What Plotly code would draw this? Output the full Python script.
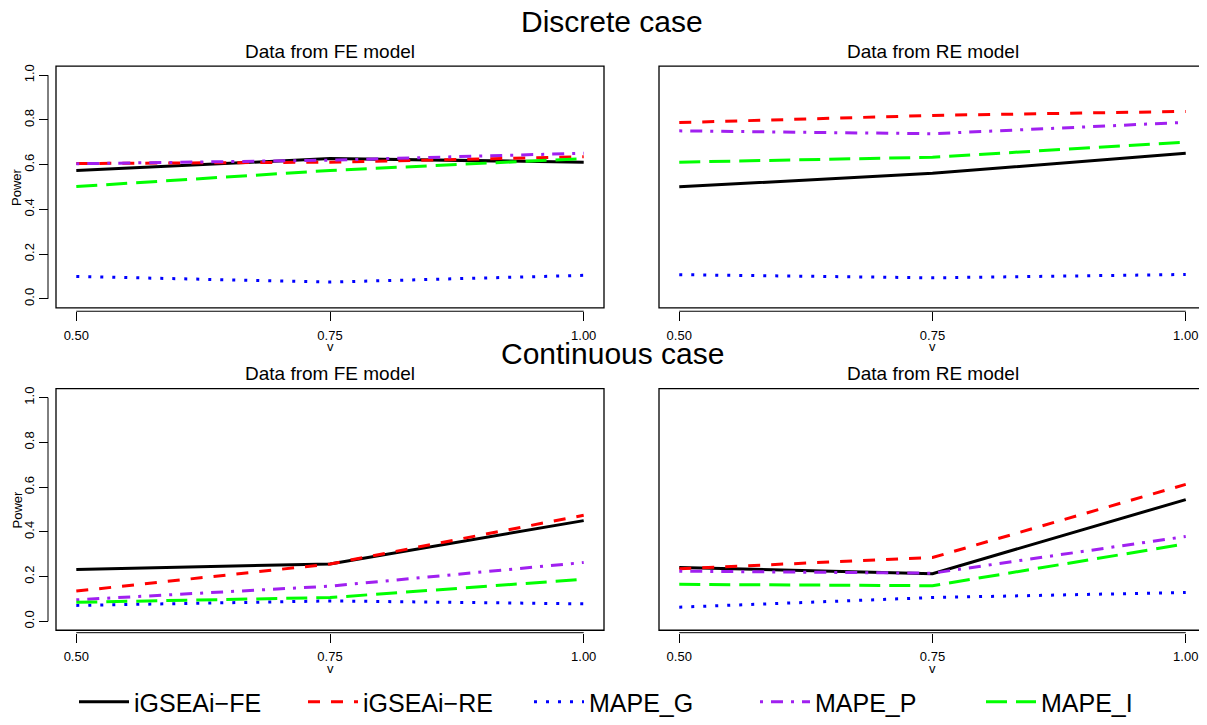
import plotly.graph_objects as go

# page body adds an 8px margin; build the figure so that it lands on the reference pixels
OFF = 8
W, H = 1207 - OFF, 725 - OFF

# ---------------- data ----------------
v_values = [0.50, 0.75, 1.00]
series_names = ["iGSEAi\u2212FE", "iGSEAi\u2212RE", "MAPE_G", "MAPE_P", "MAPE_I"]

# Discrete case, data from FE model
disc_fe_igseai_fe = [0.574, 0.627, 0.611]
disc_fe_igseai_re = [0.605, 0.611, 0.635]
disc_fe_mape_g = [0.100, 0.075, 0.105]
disc_fe_mape_p = [0.604, 0.620, 0.651]
disc_fe_mape_i = [0.502, 0.574, 0.627]

# Discrete case, data from RE model
disc_re_igseai_fe = [0.501, 0.561, 0.651]
disc_re_igseai_re = [0.788, 0.820, 0.838]
disc_re_mape_g = [0.108, 0.094, 0.109]
disc_re_mape_p = [0.751, 0.738, 0.789]
disc_re_mape_i = [0.611, 0.633, 0.701]

# Continuous case, data from FE model
cont_fe_igseai_fe = [0.232, 0.256, 0.450]
cont_fe_igseai_re = [0.135, 0.256, 0.474]
cont_fe_mape_g = [0.071, 0.091, 0.078]
cont_fe_mape_p = [0.096, 0.157, 0.263]
cont_fe_mape_i = [0.085, 0.106, 0.188]

# Continuous case, data from RE model
cont_re_igseai_fe = [0.240, 0.213, 0.544]
cont_re_igseai_re = [0.235, 0.285, 0.612]
cont_re_mape_g = [0.063, 0.106, 0.129]
cont_re_mape_p = [0.224, 0.215, 0.379]
cont_re_mape_i = [0.165, 0.159, 0.346]

x_tick_vals = [0.50, 0.75, 1.00]
x_tick_text = ["0.50", "0.75", "1.00"]
y_tick_vals = [0.0, 0.2, 0.4, 0.6, 0.8, 1.0]
y_tick_text = ["0.0", "0.2", "0.4", "0.6", "0.8", "1.0"]

main_titles = ["Discrete case", "Continuous case"]
panel_titles = ["Data from FE model", "Data from RE model"]

# ---------------- styles ----------------
colors = ["#000000", "#FF0000", "#0000FF", "#A020F0", "#00FF00"]
dashes = ["solid", "12px,11px", "3px,9px", "3px,8px,12px,8px", "21px,9px"]
FONT = "Liberation Sans, Arial, Helvetica, sans-serif"


def px_x(p):
    return (p - OFF) / W


def px_y(p):
    return 1 - (p - OFF) / H


# panel boxes (reference pixel coords): (left, right, top, bottom), axis line y
panels = [
    dict(box=(56, 604, 65, 310), xline=313.5, yaxis=True),
    dict(box=(659, 1206, 65, 310), xline=313.5, yaxis=False),
    dict(box=(56, 604, 392, 637), xline=639.5, yaxis=True),
    dict(box=(659, 1206, 392, 637), xline=639.5, yaxis=False),
]

panel_data = [
    [disc_fe_igseai_fe, disc_fe_igseai_re, disc_fe_mape_g, disc_fe_mape_p, disc_fe_mape_i],
    [disc_re_igseai_fe, disc_re_igseai_re, disc_re_mape_g, disc_re_mape_p, disc_re_mape_i],
    [cont_fe_igseai_fe, cont_fe_igseai_re, cont_fe_mape_g, cont_fe_mape_p, cont_fe_mape_i],
    [cont_re_igseai_fe, cont_re_igseai_re, cont_re_mape_g, cont_re_mape_p, cont_re_mape_i],
]

fig = go.Figure()
shapes = []
annotations = []
layout_axes = {}

legend_names = ["legend", "legend2", "legend3", "legend4", "legend5"]
legend_text_px = [133, 362, 588, 814, 1040]
ITEMW = 50

for i, (pan, data) in enumerate(zip(panels, panel_data)):
    l, r, t, b = pan["box"]
    xa = "x" if i == 0 else f"x{i+1}"
    ya = "y" if i == 0 else f"y{i+1}"
    xkey = "xaxis" if i == 0 else f"xaxis{i+1}"
    ykey = "yaxis" if i == 0 else f"yaxis{i+1}"

    for k in range(5):
        fig.add_trace(go.Scatter(
            x=v_values, y=data[k], mode="lines", name=series_names[k],
            line=dict(color=colors[k], width=3, dash=dashes[k]),
            xaxis=xa, yaxis=ya,
            showlegend=(i == 0), legend=legend_names[k],
        ))

    layout_axes[xkey] = dict(
        domain=[px_x(l), px_x(r)], anchor="free", position=px_y(pan["xline"]),
        range=[0.48, 1.02], tickvals=x_tick_vals, ticktext=x_tick_text,
        ticks="outside", ticklen=9, tickwidth=1, tickcolor="#000000",
        ticklabelstandoff=3,
        showgrid=False, zeroline=False, showline=False,
        tickfont=dict(family=FONT, size=13, color="#000000"),
    )
    layout_axes[ykey] = dict(
        domain=[px_y(b), px_y(t)], anchor="free", position=px_x(48),
        range=[-0.04, 1.04], tickvals=y_tick_vals, ticktext=y_tick_text,
        ticks="outside" if pan["yaxis"] else "", ticklen=9, tickwidth=1,
        tickcolor="#000000", tickangle=-90,
        showticklabels=pan["yaxis"],
        showgrid=False, zeroline=False, showline=False,
        tickfont=dict(family=FONT, size=13, color="#000000"),
    )

    # panel box
    shapes.append(dict(type="rect", xref="paper", yref="paper",
                       x0=px_x(l), x1=px_x(r), y0=px_y(b), y1=px_y(t),
                       line=dict(color="#000000", width=1.3)))
    # x axis line (spans tick range only)
    shapes.append(dict(type="line", xref=xa, yref="paper",
                       x0=x_tick_vals[0], x1=x_tick_vals[-1],
                       y0=px_y(pan["xline"]), y1=px_y(pan["xline"]),
                       line=dict(color="#000000", width=1)))
    if pan["yaxis"]:
        shapes.append(dict(type="line", xref="paper", yref=ya,
                           x0=px_x(48), x1=px_x(48),
                           y0=y_tick_vals[0], y1=y_tick_vals[-1],
                           line=dict(color="#000000", width=1)))
        annotations.append(dict(text="Power", xref="paper", yref="paper",
                                x=px_x(17), y=px_y((t + b) / 2), textangle=-90,
                                showarrow=False, xanchor="center", yanchor="middle",
                                font=dict(family=FONT, size=13, color="#000000")))
    # panel title
    annotations.append(dict(text=panel_titles[i % 2], xref="paper", yref="paper",
                            x=px_x((l + r) / 2), y=px_y(t - 15),
                            showarrow=False, xanchor="center", yanchor="middle",
                            font=dict(family=FONT, size=19, color="#000000")))
    # x axis title
    annotations.append(dict(text="v", xref="paper", yref="paper",
                            x=px_x((l + r) / 2), y=px_y(pan["xline"] + 36),
                            showarrow=False, xanchor="center", yanchor="middle",
                            font=dict(family=FONT, size=13, color="#000000")))

# main titles
annotations.append(dict(text=main_titles[0], xref="paper", yref="paper",
                        x=px_x(612), y=px_y(20), showarrow=False,
                        xanchor="center", yanchor="middle",
                        font=dict(family=FONT, size=30, color="#000000")))
annotations.append(dict(text=main_titles[1], xref="paper", yref="paper",
                        x=px_x(612), y=px_y(356), showarrow=False,
                        xanchor="center", yanchor="middle",
                        font=dict(family=FONT, size=30, color="#000000")))

legend_layout = {}
for k, ln in enumerate(legend_names):
    legend_layout[ln] = dict(
        x=px_x(legend_text_px[k] - (ITEMW + 9)), y=px_y(710), xanchor="left", yanchor="middle",
        orientation="h", bgcolor="rgba(0,0,0,0)", borderwidth=0,
        font=dict(family=FONT, size=25, color="#000000"), itemwidth=ITEMW,
    )

fig.update_layout(
    width=W, height=H, autosize=False,
    margin=dict(l=0, r=0, t=0, b=0, pad=0),
    paper_bgcolor="#FFFFFF", plot_bgcolor="rgba(0,0,0,0)",
    shapes=shapes, annotations=annotations,
    **layout_axes, **legend_layout,
)

fig.write_html("out.html")
